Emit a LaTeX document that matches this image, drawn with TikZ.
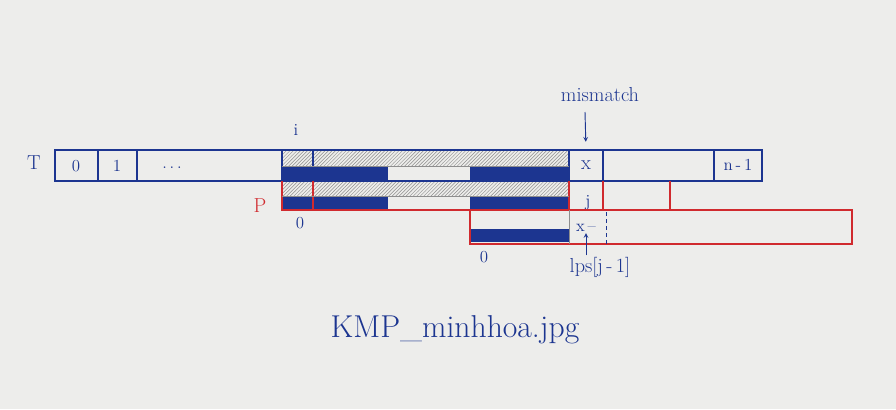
\documentclass[tikz,border=0pt]{standalone}
\usepackage{tikz}
\usetikzlibrary{patterns}
\definecolor{inkblue}{HTML}{1C3590}
\definecolor{inkred}{HTML}{D02A2E}
\definecolor{paper}{HTML}{EDEDEB}
\definecolor{hatch}{HTML}{8E8E8E}

\begin{document}
\begin{tikzpicture}[x=0.03cm, y=-0.03cm,
  ink/.style={draw=inkblue, line width=1.1pt},
  redink/.style={draw=inkred, line width=1.1pt},
  cell/.style={inner sep=0pt, text=inkblue, font=\Large},
  hatched/.style={pattern=north east lines, pattern color=hatch},
  band/.style={fill=inkblue},
  lbl/.style={text=inkblue, inner sep=1pt, font=\Large},
  tip/.style={-stealth, draw=inkblue, line width=0.8pt}]
\useasboundingbox[fill=paper] (0,0) rectangle (896,409);

% text array T
\fill[hatched] (282,151) rectangle (569,166);
\fill[band] (282,166) rectangle (388,180);
\fill[band] (470,166) rectangle (569,180);
\draw[ink] (55,150) rectangle (762,181);
\foreach \x in {98,137,282,569,603,714}
  \draw[ink] (\x,150) -- (\x,181);
\draw[ink] (313,150) -- (313,166);
\draw[draw=hatch, line width=0.5pt] (282,166) -- (569,166);
\node[cell] (cellZero) at (76,166) {0};
\node[cell] (cellOne) at (117,166) {1};
\node[cell] (dots) at (172,168) {.\,.\,.};
\node[cell, font=\LARGE, minimum width=1.02cm, minimum height=0.93cm] (cellX) at (586,165.5) {x};
\node[cell] (cellLast) at (738,165) {n\,-\,1};
\node[lbl, font=\LARGE] (tLbl) at (34,163) {T};

% pattern P at shift 0
\fill[hatched] (282,182) rectangle (569,196);
\fill[band] (282,196) rectangle (388,209);
\fill[band] (470,196) rectangle (569,209);
\draw[redink] (282,181) -- (282,210) -- (670,210) -- (670,181);
\foreach \x in {313,569,603}
  \draw[redink] (\x,181) -- (\x,210);
\draw[draw=hatch, line width=0.5pt] (282,196) -- (569,196);
\node[lbl, font=\LARGE, text=inkred] (pLbl) at (260,206) {P};
\node[lbl] (zeroP) at (300,223) {0};
\node[lbl] (jLbl) at (588,203) {j};

% pattern P shifted by lps[j-1]
\fill[band] (470,229) rectangle (569,242);
\draw[redink] (470,210) rectangle (852,244);
\draw[draw=hatch, line width=0.5pt] (569,210) -- (569,244);
\draw[draw=inkblue, dashed, line width=0.6pt] (606,212) -- (606,244);
\node[lbl] (cmpLbl) at (586,228) {x\,--};
\node[lbl] (zeroQ) at (484,257) {0};
\node[lbl, font=\LARGE] (lpsLbl) at (600,267) {lps[j\,-\,1]};

% markers
\node[lbl] (iLbl) at (296,130) {i};
\node[lbl, font=\LARGE] (mismatch) at (600,95) {mismatch};
\draw[tip, shorten >=0.24cm] (585,112) -- (cellX.north);
\draw[tip] (lpsLbl.north -| cmpLbl) -- (cmpLbl.south);

\node[lbl, font=\fontsize{27}{32}\selectfont] (caption) at (455,330) {KMP\_minhhoa.jpg};
\end{tikzpicture}
\end{document}
